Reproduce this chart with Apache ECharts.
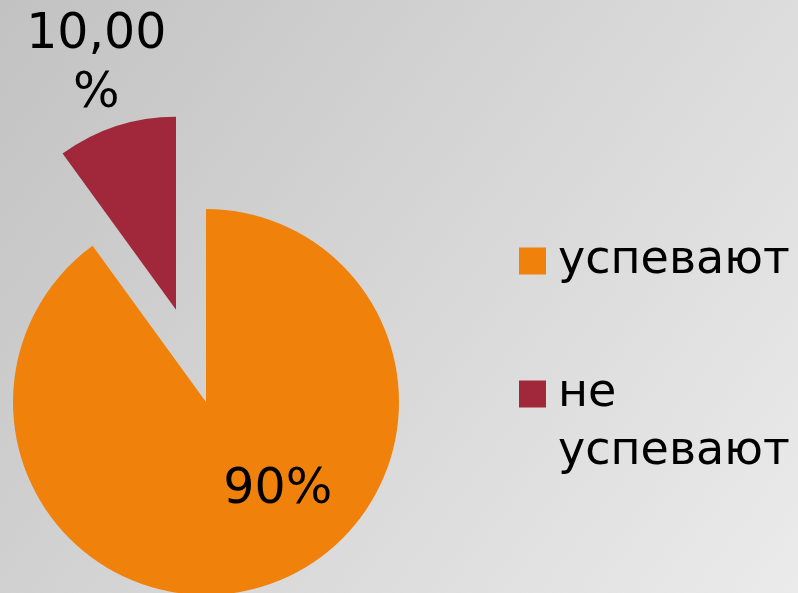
<!DOCTYPE html>
<html lang="ru">
<head>
    <meta charset="UTF-8">
    <title>Успеваемость</title>
    <script src="https://cdn.jsdelivr.net/npm/echarts@6/dist/echarts.min.js"></script>
    <style>
        html, body {margin: 0; padding: 0}
        #charts {width: 798px; height: 593px}
    </style>
</head>
<body>
<div id="charts"></div>
<script>
    var names = ['успевают', 'не успевают']
    var values = [90, 10]
    var labels = ['90%', '10,00\n%']
    var colors = ['#f0810a', '#a1283a']

    var font = 'DejaVu Sans, Verdana, sans-serif'
    // сдвиг подписей от стандартного положения "inside"
    var labelShift = [[41, -6], [-49, -150]]

    var pieData = names.map(function (n, i) {
        return {
            name: n,
            value: values[i],
            selected: i == 1,
            itemStyle: {color: colors[i]},
            label: {formatter: labels[i]}
        }
    })

    var legendText = {fontFamily: font, fontSize: 46, color: '#000', lineHeight: 58, padding: [0, 0, 0, 7]}

    var chart = echarts.init(document.getElementById('charts'), null, {renderer: 'canvas'})
    chart.setOption({
        animation: false,
        backgroundColor: {
            type: 'linear', x: 0, y: 0, x2: 1, y2: 1,
            colorStops: [{offset: 0, color: '#c2c2c2'}, {offset: 1, color: '#ebebeb'}]
        },
        legend: [{
            data: [names[0]],
            orient: 'vertical',
            left: 519, top: 232, padding: 0,
            itemWidth: 27, itemHeight: 27, itemGap: 0,
            icon: 'rect',
            selectedMode: false,
            textStyle: legendText
        }, {
            data: [names[1]],
            orient: 'vertical',
            left: 519, top: 307, padding: 0,
            itemWidth: 27, itemHeight: 27, itemGap: 0,
            icon: 'rect',
            selectedMode: false,
            // пустая первая строка, чтобы "не" стояло напротив значка
            formatter: function (n) { return '\n' + n.replace(' ', '\n') },
            textStyle: legendText
        }],
        series: [{
            type: 'pie',
            center: [206, 402],
            radius: 193,
            startAngle: 90,
            clockwise: true,
            selectedMode: 'single',
            selectedOffset: 97,
            silent: true,
            label: {
                show: true,
                position: 'inside',
                fontFamily: font,
                fontSize: 49,
                lineHeight: 59,
                color: '#000'
            },
            labelLine: {show: false},
            labelLayout: function (p) {
                return {dx: labelShift[p.dataIndex][0], dy: labelShift[p.dataIndex][1]}
            },
            emphasis: {disabled: true},
            data: pieData
        }]
    })
</script>
</body>
</html>
